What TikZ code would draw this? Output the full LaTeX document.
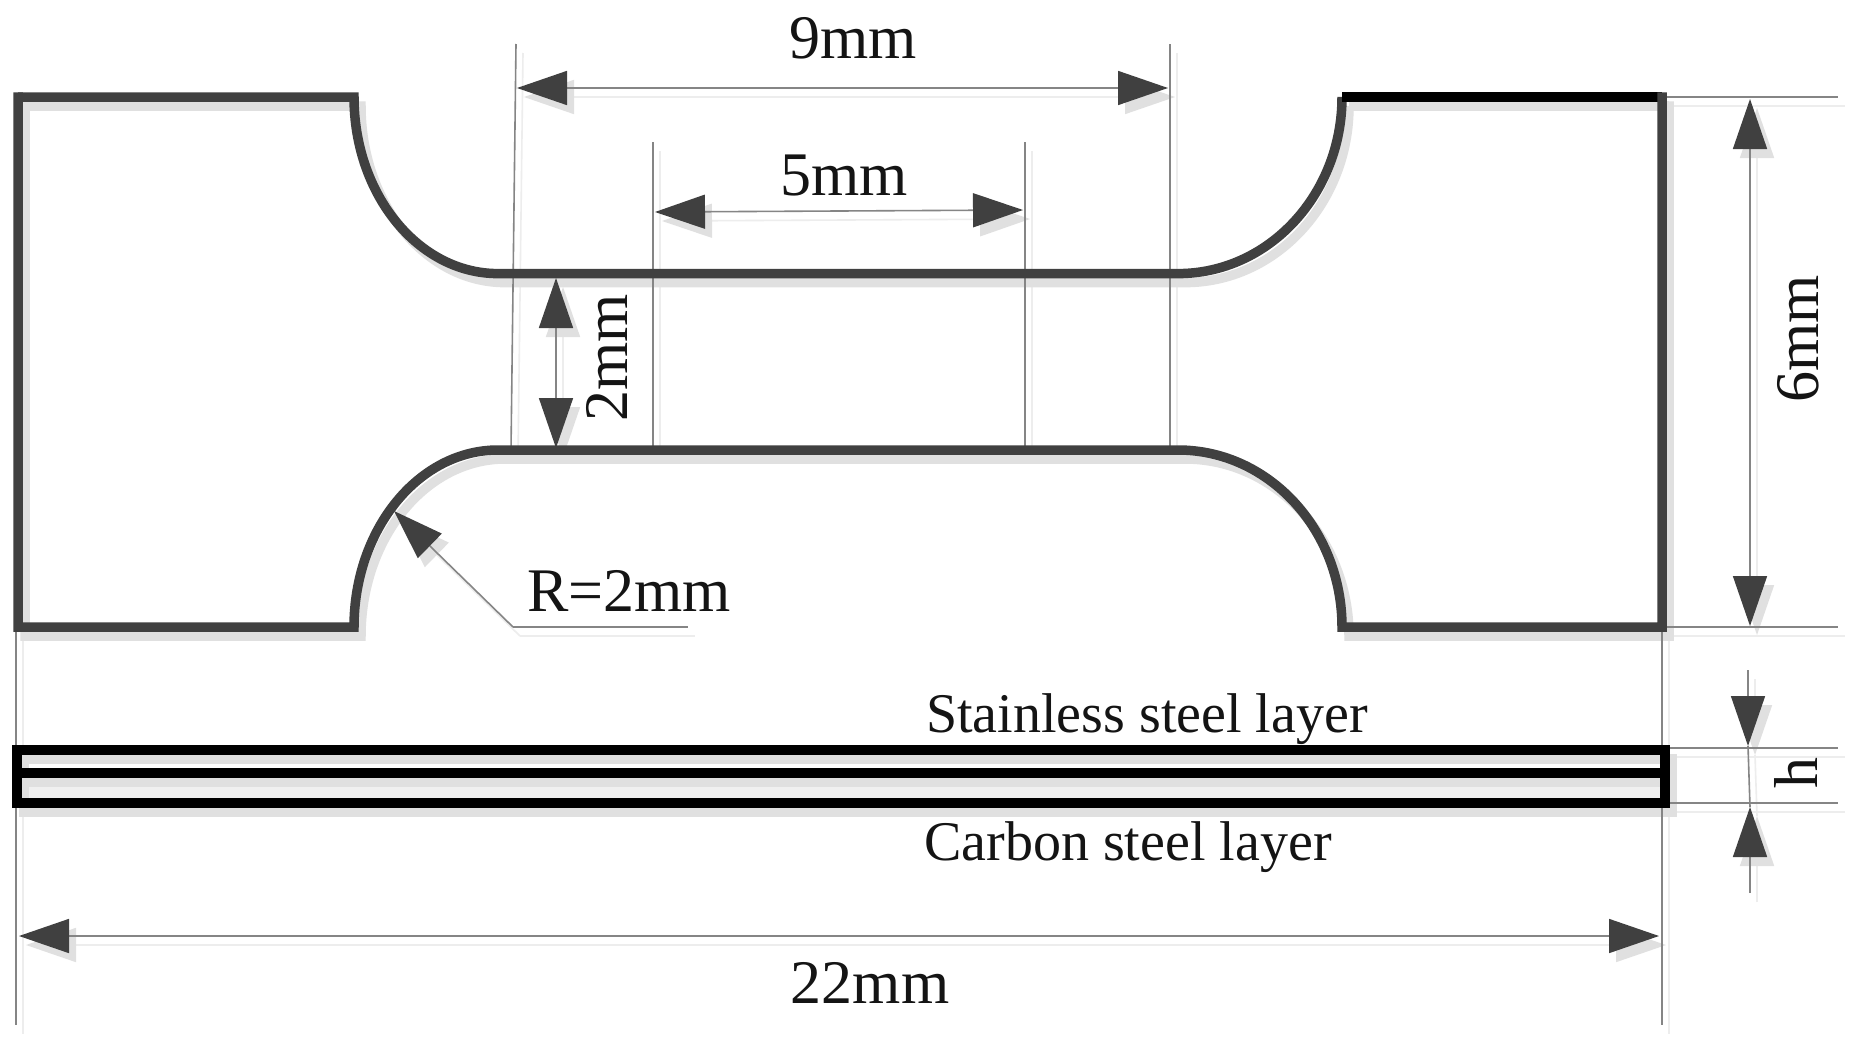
\documentclass[tikz,border=0pt]{standalone}
\usepackage{fontspec}
\setmainfont{Liberation Serif}
\usetikzlibrary{arrows.meta}
\newcommand{\drawgeom}[3]{%
  % #1 outline colour, #2 thin colour, #3 strip colour
  \tikzset{
    outline/.style={draw=#1,line width=9.5pt,line join=miter},
    topbar/.style={draw=#3,line width=9.5pt},
    strip/.style={draw=#3,line width=10pt},
    thin/.style={draw=#2,line width=1.6pt},
    wide/.style={draw=#2,line width=2.4pt},
    head/.style={thin,{Triangle[length=50pt,width=34pt,fill=#1,color=#1]}-{Triangle[length=50pt,width=34pt,fill=#1,color=#1]}},
    headone/.style={thin,-{Triangle[length=50pt,width=34pt,fill=#1,color=#1]}},
  }%
  \coordinate (tl) at (18,97);
  \coordinate (n1) at (354,97);
  \coordinate (u1) at (498,273.6);
  \coordinate (u2) at (1178,273.6);
  \coordinate (n2) at (1342,97);
  \coordinate (tr) at (1662,97);
  \coordinate (br) at (1662,627);
  \coordinate (n4) at (1342,627);
  \coordinate (l2) at (1178,450);
  \coordinate (l1) at (498,450);
  \coordinate (n3) at (354,627);
  \coordinate (bl) at (18,627);
  \coordinate (s1) at (17,750);
  \coordinate (s2) at (1665,803);
  \coordinate (sm1) at (17,773);
  \coordinate (sm2) at (1665,773);
  \coordinate (e9a) at (516,44);
  \coordinate (e9b) at (511,450);
  \coordinate (e9c) at (1170,44);
  \coordinate (e9d) at (1170,450);
  \coordinate (e5a) at (653,142);
  \coordinate (e5b) at (653,450);
  \coordinate (e5c) at (1025,142);
  \coordinate (e5d) at (1025,450);
  \coordinate (x1) at (1662,97);
  \coordinate (x2) at (1838,97);
  \coordinate (x3) at (1662,627);
  \coordinate (x4) at (1838,627);
  \coordinate (v1) at (16,627);
  \coordinate (v2) at (16,1025);
  \coordinate (v3) at (1662,627);
  \coordinate (v4) at (1662,1025);
  \coordinate (h1) at (1665,748);
  \coordinate (h2) at (1838,748);
  \coordinate (h3) at (1665,803);
  \coordinate (h4) at (1838,803);
  \coordinate (d9a) at (517,88);
  \coordinate (d9b) at (1168,88);
  \coordinate (d5a) at (655,212);
  \coordinate (d5b) at (1023,210);
  \coordinate (d2a) at (556,278);
  \coordinate (d2b) at (556,448);
  \coordinate (d6a) at (1750,99);
  \coordinate (d6b) at (1750,626);
  \coordinate (d22a) at (19,936);
  \coordinate (d22b) at (1659,936);
  \coordinate (ha) at (1748,670);
  \coordinate (hb) at (1748,746);
  \coordinate (hc) at (1750,807);
  \coordinate (hd) at (1750,893);
  \coordinate (rtip) at (394,511);
  \coordinate (ra) at (513,627);
  \coordinate (rb) at (688,627);
  % extension lines
  \draw[thin] (e9a) -- (e9b);
  \draw[thin] (e9c) -- (e9d);
  \draw[thin] (e5a) -- (e5b);
  \draw[thin] (e5c) -- (e5d);
  \draw[wide] (x1) -- (x2);
  \draw[wide] (x3) -- (x4);
  \draw[wide] (v1) -- (v2);
  \draw[thin] (v3) -- (v4);
  \draw[thin] (h1) -- (h2);
  \draw[thin] (h3) -- (h4);
  % specimen outline
  \draw[outline] (tl) -- (n1) .. controls (354,194.5) and (418.5,273.6) .. (u1) -- (u2)
    .. controls (1268.6,273.6) and (1342,194.5) .. (n2);
  \draw[topbar] (n2) -- (tr);
  \draw[outline,line cap=rect] (tr) -- (br) -- (n4) .. controls (1342,529.5) and (1268.6,450) .. (l2) -- (l1)
    .. controls (418.5,450) and (354,529.5) .. (n3) -- (bl) -- (tl);
  % strip
  \draw[strip] (s1) rectangle (s2);
  \draw[strip] (sm1) -- (sm2);
  % dimension arrows
  \draw[head] (d9a) -- (d9b);
  \draw[head] (d5a) -- (d5b);
  \draw[head] (d2a) -- (d2b);
  \draw[head] (d6a) -- (d6b);
  \draw[head] (d22a) -- (d22b);
  \draw[headone] (ha) -- (hb);
  \draw[headone] (hd) -- (hc);
  \draw[thin] (hb) -- (hc);
  \draw[headone] (ra) -- (rtip);
  \draw[thin] (ra) -- (rb);
}
\begin{document}
\begin{tikzpicture}[x=1pt,y=-1pt]
\useasboundingbox[fill=white] (0,0) rectangle (1858,1044);
% lower band tint
\fill[fill=black!6] (18,773) rectangle (1665,803);
% drop shadow
\begin{scope}[shift={(7,9)}]
\drawgeom{black!12}{black!7}{black!12}
\end{scope}
% drawing
\drawgeom{black!75}{black!48}{black}
% labels
\tikzset{lab/.style={font=\fontsize{62}{62}\selectfont,text=black!92,inner sep=0pt,anchor=base},
 sublab/.style={font=\fontsize{56}{56}\selectfont,text=black!92,inner sep=0pt,anchor=base}}
\node[lab] (t9) at (853,58) {9mm};
\node[lab] (t5) at (844,195) {5mm};
\node[lab,rotate=90] (t2) at (627,358) {2mm};
\node[lab,anchor=base west] (tr2) at (527,611) {R=2mm};
\node[lab,rotate=90] (t6) at (1818,339) {6mm};
\node[lab,rotate=90] (th) at (1817,773) {h};
\node[lab] (t22) at (870,1003) {22mm};
\node[sublab,anchor=base west] (tss) at (926,732) {Stainless steel layer};
\node[sublab,anchor=base west] (tcs) at (924,860) {Carbon steel layer};
\end{tikzpicture}
\end{document}
